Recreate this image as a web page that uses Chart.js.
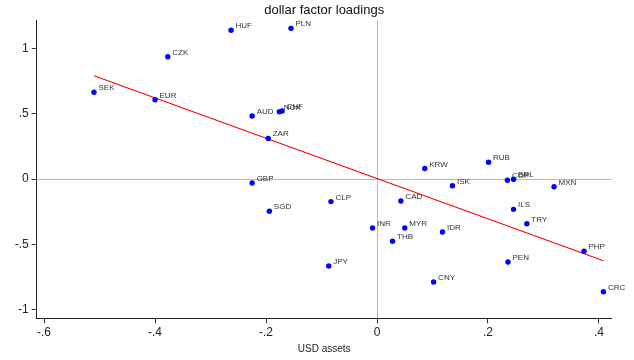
<!DOCTYPE html>
<html>
<head>
<meta charset="utf-8">
<script src="https://cdn.jsdelivr.net/npm/chart.js@4"></script>
<style>
  html, body { margin: 0; padding: 0; background: #fff; }
  #wrap { width: 634px; height: 360px; }
</style>
</head>
<body>
<div id="wrap"><canvas id="grafica"></canvas></div>
<script>
// currencies and their (USD assets, dollar loading) pairs
const monedas = ['HUF', 'PLN', 'CZK', 'SEK', 'EUR', 'AUD', 'NOK', 'CHF', 'ZAR', 'GBP',
  'CLP', 'SGD', 'CAD', 'KRW', 'RUB', 'ISK', 'COP', 'BRL', 'MXN', 'ILS',
  'TRY', 'PHP', 'PEN', 'IDR', 'MYR', 'INR', 'THB', 'JPY', 'CNY', 'CRC'];
const usdAssets = [-0.263, -0.155, -0.377, -0.510, -0.400, -0.225, -0.176, -0.171, -0.196, -0.225,
  -0.083, -0.194, 0.043, 0.086, 0.201, 0.136, 0.235, 0.246, 0.319, 0.246,
  0.270, 0.373, 0.236, 0.118, 0.050, -0.008, 0.028, -0.087, 0.102, 0.408];
const loadings = [1.138, 1.153, 0.936, 0.664, 0.607, 0.482, 0.515, 0.520, 0.311, -0.031,
  -0.173, -0.247, -0.168, 0.080, 0.128, -0.051, -0.010, -0.002, -0.059, -0.232,
  -0.342, -0.553, -0.635, -0.406, -0.375, -0.375, -0.476, -0.666, -0.788, -0.863];

// fitted line end points
const ajusteX = [-0.510, 0.408];
const ajusteY = [0.790, -0.625];

// tick labels
const ticksX = [-0.6, -0.4, -0.2, 0, 0.2, 0.4];
const ticksY = [-1, -0.5, 0, 0.5, 1];

// Stata style numbers: -.6, .4, 0, 1
function formato(v) {
  if (v === 0) return '0';
  let s = String(Math.round(v * 100) / 100);
  return s.replace(/^0\./, '.').replace(/^-0\./, '-.');
}

const fuente = "'Liberation Sans', Arial, Helvetica, sans-serif";

// labels next to each point
const etiquetas = {
  id: 'etiquetas',
  afterDatasetsDraw(chart) {
    const ctx = chart.ctx;
    const meta = chart.getDatasetMeta(0);
    ctx.save();
    ctx.font = '8px ' + fuente;
    ctx.fillStyle = '#333';
    ctx.textAlign = 'left';
    ctx.textBaseline = 'alphabetic';
    meta.data.forEach((p, i) => {
      ctx.fillText(monedas[i], p.x + 4.5, p.y - 2);
    });
    ctx.restore();
  }
};

const puntos = usdAssets.map((x, i) => ({ x: x, y: loadings[i] }));
const linea = ajusteX.map((x, i) => ({ x: x, y: ajusteY[i] }));

// light blue lines at zero
const colorCero = c => (c.tick && c.tick.value === 0) ? '#b0b0ff' : 'rgba(0,0,0,0)';

const ctx = document.getElementById('grafica').getContext('2d');
const myChart = new Chart(ctx, {
  type: 'scatter',
  data: {
    datasets: [
      {
        data: puntos,
        backgroundColor: '#0000ff',
        borderColor: '#0000ff',
        pointRadius: 2.7,
        pointHoverRadius: 2.7,
        borderWidth: 0
      },
      {
        type: 'line',
        data: linea,
        borderColor: '#ff0000',
        borderWidth: 1.1,
        pointRadius: 0,
        fill: false,
        tension: 0
      }
    ]
  },
  options: {
    responsive: true,
    maintainAspectRatio: false,
    animation: false,
    layout: { padding: { left: 10, right: 22.3, top: 0, bottom: 0 } },
    plugins: {
      legend: { display: false },
      tooltip: { enabled: false },
      title: {
        display: true,
        fullSize: false,
        text: 'dollar factor loadings',
        color: '#111',
        font: { family: fuente, size: 13, weight: 'normal', lineHeight: 1.2 },
        padding: { top: 3, bottom: 1.4 }
      }
    },
    scales: {
      x: {
        type: 'linear',
        min: -0.6132,
        max: 0.4229,
        afterBuildTicks: s => { s.ticks = ticksX.map(v => ({ value: v })); },
        afterFit: s => { s.height = 41.7; },
        ticks: {
          callback: v => formato(v),
          color: '#222',
          font: { family: fuente, size: 12 },
          padding: 2,
          maxRotation: 0,
          autoSkip: false
        },
        grid: {
          color: colorCero,
          tickColor: '#333',
          tickLength: 5,
          lineWidth: 1
        },
        border: { display: true, color: '#222', width: 1 },
        title: {
          display: true,
          text: 'USD assets',
          color: '#222',
          font: { family: fuente, size: 10, lineHeight: 1.2 },
          padding: { top: 0, bottom: 5 }
        }
      },
      y: {
        type: 'linear',
        min: -1.066,
        max: 1.217,
        afterBuildTicks: s => { s.ticks = ticksY.map(v => ({ value: v })); },
        afterFit: s => { s.width = 26.7; },
        ticks: {
          callback: v => formato(v),
          color: '#222',
          font: { family: fuente, size: 12 },
          padding: 3,
          autoSkip: false
        },
        grid: {
          color: colorCero,
          tickColor: '#333',
          tickLength: 5,
          lineWidth: 1
        },
        border: { display: true, color: '#222', width: 1 }
      }
    }
  },
  plugins: [etiquetas]
});
</script>
</body>
</html>
